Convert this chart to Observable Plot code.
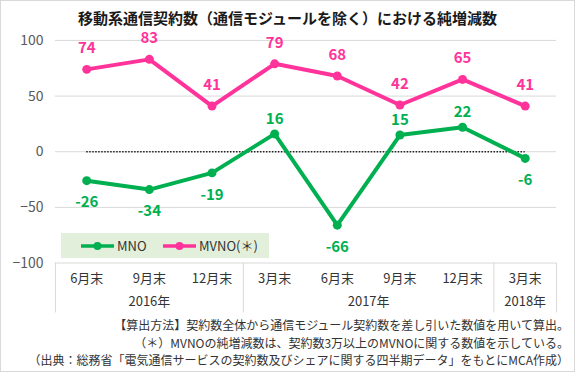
<!DOCTYPE html>
<html><head><meta charset="utf-8">
<script src="https://cdn.jsdelivr.net/npm/d3@7"></script>
<script src="https://cdn.jsdelivr.net/npm/@observablehq/plot@0.6"></script>
<style>
body{margin:0;background:#fff;}
#wrap{position:relative;width:575px;height:372px;box-sizing:border-box;border:1px solid #d9d9d9;font-family:"Noto Sans CJK JP",sans-serif;overflow:hidden;background:#fff}
#chart{position:absolute;left:-1px;top:-1px}
#title{position:absolute;left:-1px;width:575px;top:6px;text-align:center;font-weight:bold;font-size:15px;color:#1a1a1a;line-height:22px;white-space:nowrap}
#notes{position:absolute;right:5px;top:315px;text-align:right;font-size:12px;color:#333;line-height:17.5px;white-space:nowrap}
#legend{position:absolute;left:60px;top:232px;width:208px;height:25px;background:#e2efda}
</style>
</head><body>
<div id="wrap">
  <div id="chart"></div>
  <div id="title">移動系通信契約数（通信モジュールを除く）における純増減数</div>
  <div id="legend"></div>
  <div id="notes">
    <div>【算出方法】契約数全体から通信モジュール契約数を差し引いた数値を用いて算出。</div>
    <div>（＊）MVNOの純増減数は、契約数3万以上のMVNOに関する数値を示している。</div>
    <div>（出典：総務省「電気通信サービスの契約数及びシェアに関する四半期データ」をもとにMCA作成）</div>
  </div>
</div>
<script>
const categories = ["6月末","9月末","12月末","3月末","6月末","9月末","12月末","3月末"];
const years = ["2016年","2016年","2016年","2017年","2017年","2017年","2017年","2018年"];
const mno = [-26,-34,-19,16,-66,15,22,-6];
const mvno = [74,83,41,79,68,42,65,41];
const yTicks = [-100,-50,0,50,100];
const seriesNames = ["MNO","MVNO(＊)"];

const GREEN = "#00b050", PINK = "#ff3399";
const n = categories.length;
const mnoData = mno.map((v,i)=>({i, v}));
const mvnoData = mvno.map((v,i)=>({i, v}));
const catData = categories.map((label,i)=>({i,label}));
// year groups
const groups = [];
years.forEach((y,i)=>{
  const g = groups[groups.length-1];
  if (g && g.label===y) g.end = i + 0.5;
  else groups.push({label:y, start:i-0.5, end:i+0.5});
});
groups.forEach(g=>g.mid=(g.start+g.end)/2);
const boundaries = [groups[0].start, ...groups.map(g=>g.end)];

const font = '"Noto Sans CJK JP", sans-serif';
const chart = Plot.plot({
  width:575, height:372,
  marginTop:40, marginRight:18, marginBottom:109, marginLeft:55,
  style:{fontFamily:font, background:"transparent", overflow:"visible"},
  x:{domain:[-0.5, n-0.5], axis:null},
  y:{domain:[-100,100], axis:null},
  marks:[
    Plot.ruleY(yTicks,{stroke:"#d9d9d9", strokeWidth:1}),
    Plot.axisY(yTicks,{tickSize:0, tickPadding:12, fontSize:14, color:"#595959", label:null}),
    Plot.ruleX(boundaries,{stroke:"#d9d9d9", strokeWidth:1, insetTop:223, insetBottom:-50}),
    Plot.ruleY([0],{x1:0, x2:n-1, stroke:"#222", strokeWidth:1.5, strokeDasharray:"1.5,1.5"}),
    Plot.line(mnoData,{x:"i", y:"v", stroke:GREEN, strokeWidth:4, strokeLinejoin:"round"}),
    Plot.dot(mnoData,{x:"i", y:"v", r:4.5, fill:GREEN}),
    Plot.line(mvnoData,{x:"i", y:"v", stroke:PINK, strokeWidth:4, strokeLinejoin:"round"}),
    Plot.dot(mvnoData,{x:"i", y:"v", r:4.5, fill:PINK}),
    Plot.text(mvnoData,{x:"i", y:"v", text:"v", dy:-21, fill:PINK, fontSize:15, fontWeight:"bold"}),
    Plot.text(mnoData.filter(d=>d.v>=0),{x:"i", y:"v", text:"v", dy:-15, fill:GREEN, fontSize:15, fontWeight:"bold"}),
    Plot.text(mnoData.filter(d=>d.v<0),{x:"i", y:"v", text:d=>"-"+Math.abs(d.v), dy:22, fill:GREEN, fontSize:15, fontWeight:"bold"}),
    Plot.text(catData,{x:"i", text:"label", frameAnchor:"bottom", dy:20, fontSize:13, fill:"#333"}),
    Plot.text(groups,{x:"mid", text:"label", frameAnchor:"bottom", dy:43, fontSize:13, fill:"#333"})
  ]
});
document.getElementById("chart").appendChild(chart);

// legend
const colors = [GREEN, PINK];
const lx = [20, 102];
let svg = `<svg width="208" height="25" style="font-family:${font}">`;
seriesNames.forEach((name,k)=>{
  const x0 = lx[k];
  svg += `<line x1="${x0}" x2="${x0+33}" y1="13" y2="13" stroke="${colors[k]}" stroke-width="3.5"/>`;
  svg += `<circle cx="${x0+16.5}" cy="13" r="4" fill="${colors[k]}"/>`;
  svg += `<text x="${x0+36}" y="13" dy="0.36em" font-size="13" fill="#333">${name}</text>`;
});
svg += `</svg>`;
document.getElementById("legend").innerHTML = svg;
</script>
</body></html>
